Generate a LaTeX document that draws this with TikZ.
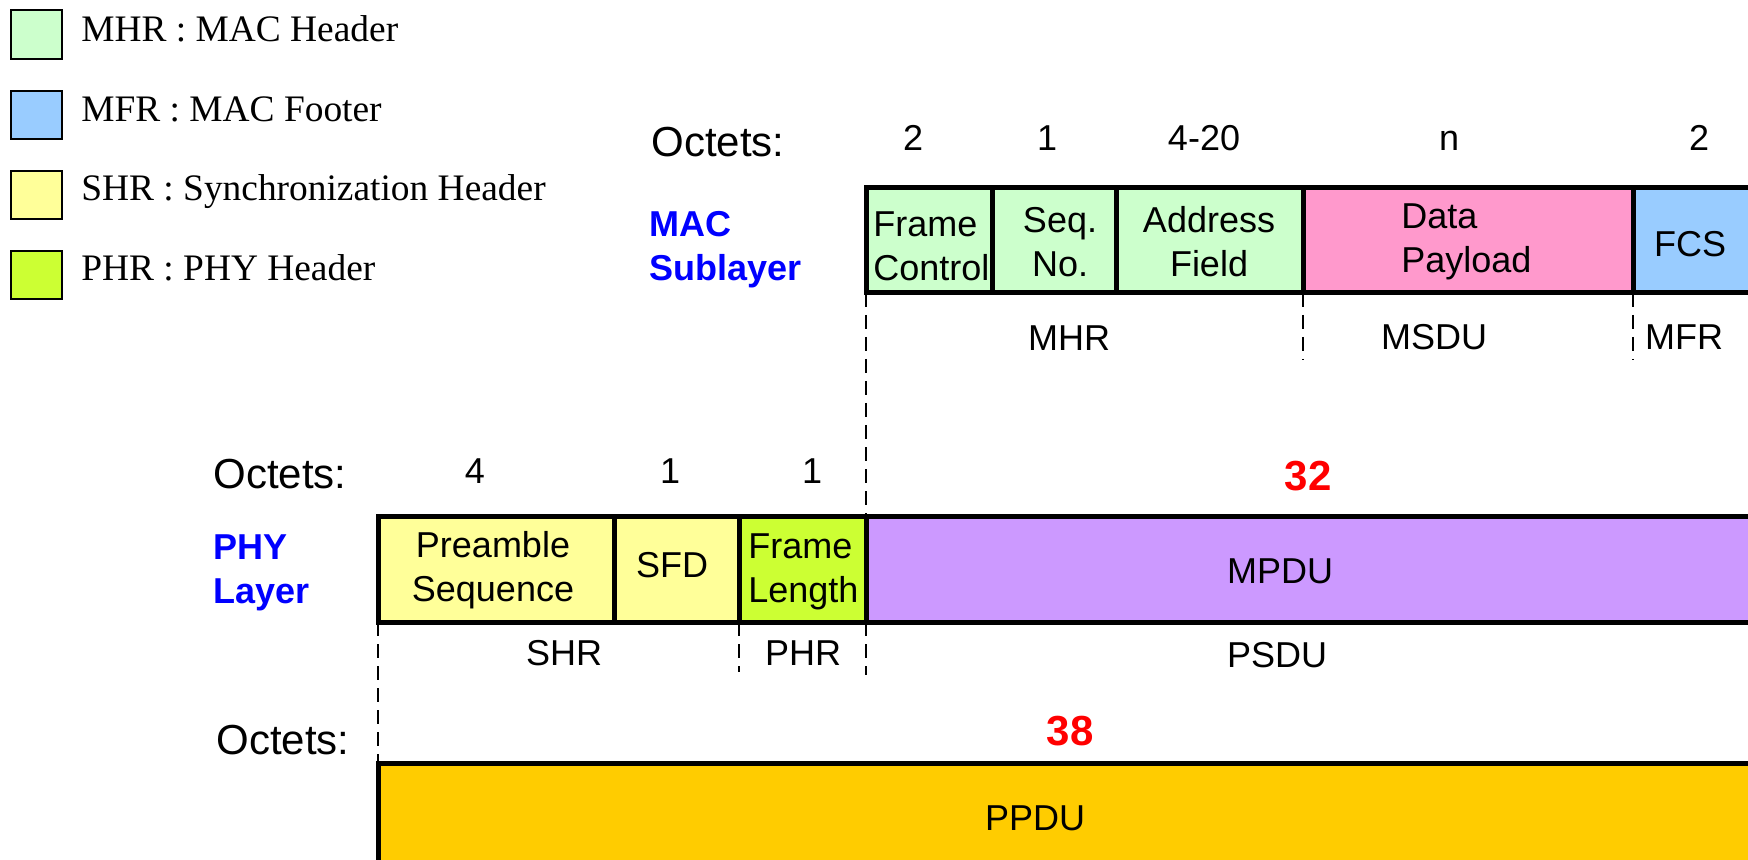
\documentclass[tikz,border=0pt]{standalone}
\usepackage{fontspec}
\setmainfont{Liberation Sans}
\newfontfamily\legfont{Liberation Serif}
\usetikzlibrary{fit}
\definecolor{cmhr}{HTML}{CCFFCC}
\definecolor{cmfr}{HTML}{99CCFF}
\definecolor{cshr}{HTML}{FFFF99}
\definecolor{cphr}{HTML}{CCFF33}
\definecolor{cdata}{HTML}{FF99CC}
\definecolor{cmpdu}{HTML}{CC99FF}
\definecolor{cppdu}{HTML}{FFCC00}
\definecolor{cblue}{HTML}{0000FF}
\definecolor{cred}{HTML}{FF0000}
\newcommand\twol[2]{#1\strut\\#2\strut}
\begin{document}
\begin{tikzpicture}[x=0.5pt,y=-0.5pt,
  seg/.style={draw=black, line width=2.5pt, inner sep=0pt, outer sep=0pt},
  leg/.style={draw=black, line width=1.3pt, inner sep=0pt, outer sep=0pt},
  lt/.style={font=\legfont\fontsize{18.7}{22}\selectfont, anchor=base west, inner sep=0pt},
  txt/.style={font=\fontsize{18}{22}\selectfont, inner sep=0pt},
  num/.style={txt, anchor=base},
  oct/.style={font=\fontsize{21}{25}\selectfont, anchor=base west, inner sep=0pt},
  big/.style={font=\bfseries\fontsize{21}{25}\selectfont, text=cred, anchor=base, inner sep=0pt},
  lay/.style={font=\bfseries\fontsize{18}{22}\selectfont, text=cblue, align=left, anchor=west, inner sep=0pt},
  dsh/.style={draw=black, dash pattern=on 7pt off 4pt, line width=1.3pt}
]
\useasboundingbox (0,0) rectangle (1748,860);
\clip (0,0) rectangle (1748,860);
\fill[white] (0,0) rectangle (1748,860);

% legend
\node[leg, fill=cmhr, fit={(11,10)(62,59)}] (lg1) {};
\node[leg, fill=cmfr, fit={(11,91)(62,139)}] (lg2) {};
\node[leg, fill=cshr, fit={(11,171)(62,219)}] (lg3) {};
\node[leg, fill=cphr, fit={(11,251)(62,299)}] (lg4) {};
\node[lt] (lt1) at (81,42) {MHR : MAC Header};
\node[lt] (lt2) at (81,122) {MFR : MAC Footer};
\node[lt] (lt3) at (81,201) {SHR : Synchronization Header};
\node[lt] (lt4) at (81,281) {PHR : PHY Header};

% MAC sublayer
\node[seg, fill=cmhr, fit={(866,187.5)(992,293)}] (fc) {};
\node[seg, fill=cmhr, fit={(992,187.5)(1116,293)}] (seq) {};
\node[seg, fill=cmhr, fit={(1116,187.5)(1303,293)}] (addr) {};
\node[seg, fill=cdata, fit={(1303,187.5)(1633,293)}] (data) {};
\node[seg, fill=cmfr, fit={(1633,187.5)(1800,293)}] (fcs) {};

\node[oct] (oct1) at (651,157) {Octets:};
\node[num] (n1) at (913,151) {2};
\node[num] (n2) at (1047,151) {1};
\node[num] (n3) at (1204,151) {4-20};
\node[num] (n4) at (1449,151) {n};
\node[num] (n5) at (1699,151) {2};

\node[lay] (mac) at (649,250.2) {\twol{MAC}{Sublayer}};
\node[txt, align=left, anchor=west] (tfc) at (873,250.2) {\twol{Frame}{Control}};
\node[txt, align=center] (tseq) at (1060,246.2) {\twol{Seq.}{No.}};
\node[txt, align=center] (taddr) at (1209,246.2) {\twol{Address}{Field}};
\node[txt, align=left, anchor=west] (tdata) at (1401,241.7) {\twol{Data}{Payload}};
\node[num] (tfcs) at (1690,257) {FCS};

\node[num] (mhr) at (1069,351) {MHR};
\node[num] (msdu) at (1434,350) {MSDU};
\node[num] (mfr) at (1684,350) {MFR};

% PHY layer
\node[seg, fill=cshr, fit={(378,516)(614,622)}] (pre) {};
\node[seg, fill=cshr, fit={(614,516)(739,622)}] (sfd) {};
\node[seg, fill=cphr, fit={(739,516)(866,622)}] (fl) {};
\node[seg, fill=cmpdu, fit={(866,516)(1800,622)}] (mpdu) {};

\node[oct] (oct2) at (213,488) {Octets:};
\node[num] (m1) at (475,483) {4};
\node[num] (m2) at (670,483) {1};
\node[num] (m3) at (812,483) {1};
\node[big] (b32) at (1308,490) {32};

\node[lay] (phy) at (213,572.7) {\twol{PHY}{Layer}};
\node[txt, align=center] (tpre) at (493,570.7) {\twol{Preamble}{Sequence}};
\node[num] (tsfd) at (672,577) {SFD};
\node[txt, align=left, anchor=west] (tfl) at (748,571.7) {\twol{Frame}{Length}};
\node[num] (tmpdu) at (1280,583) {MPDU};

\node[num] (shr) at (564,665) {SHR};
\node[num] (phr) at (803,665) {PHR};
\node[num] (psdu) at (1277,667) {PSDU};

% PPDU
\node[seg, fill=cppdu, fit={(378,763)(1800,900)}] (ppdu) {};
\node[oct] (oct3) at (216,754) {Octets:};
\node[big] (b38) at (1070,745) {38};
\node[num] (tppdu) at (1035,830) {PPDU};

% dashed guides
\coordinate (e1) at (866,675);
\coordinate (e2) at (1303,360);
\coordinate (e3) at (1633,360);
\coordinate (e4) at (739,672);
\draw[dsh] (fc.south west) -- (mpdu.north west);
\draw[dsh] (mpdu.south west) -- (e1);
\draw[dsh] (data.south west) -- (e2);
\draw[dsh] (fcs.south west) -- (e3);
\draw[dsh] (fl.south west) -- (e4);
\draw[dsh] (pre.south west) -- (ppdu.north west);
\end{tikzpicture}
\end{document}
